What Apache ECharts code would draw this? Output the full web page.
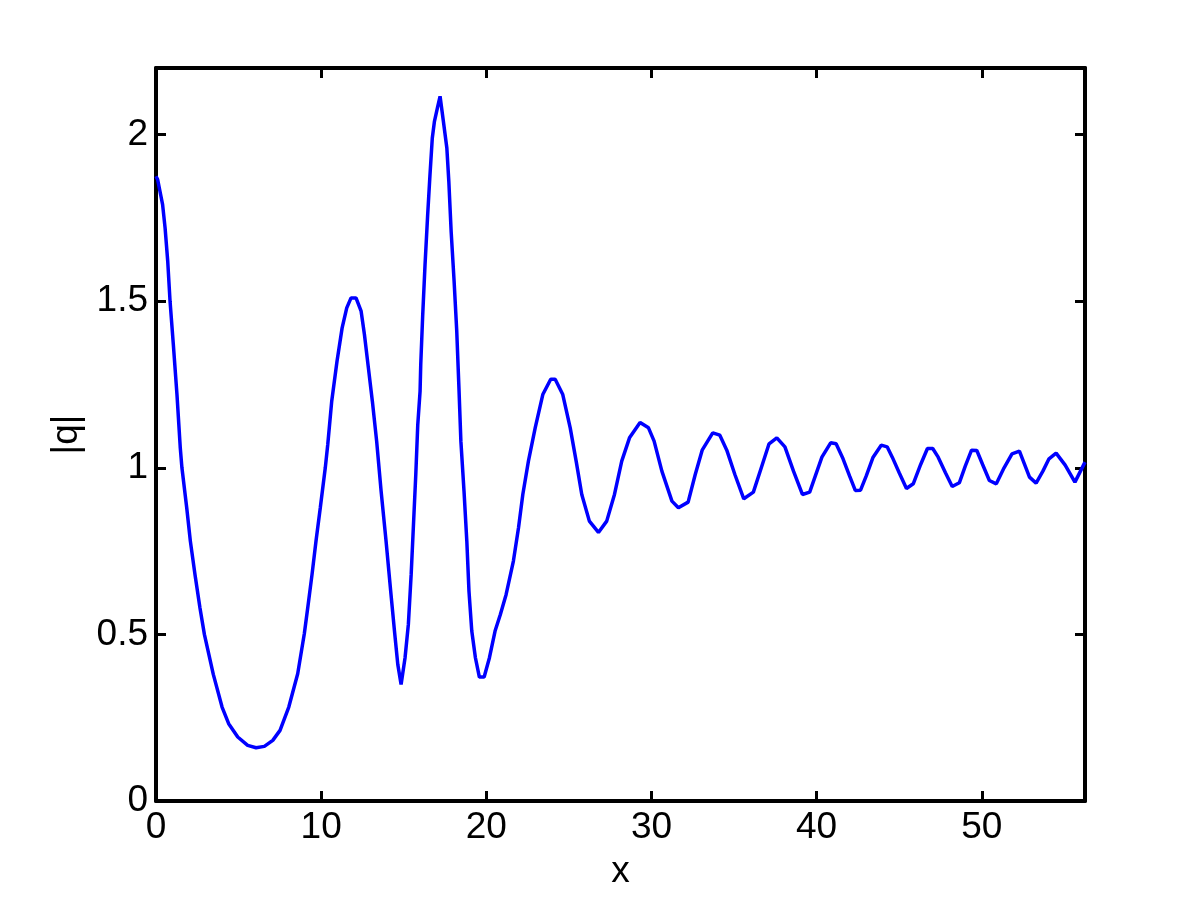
<!DOCTYPE html>
<html>
<head>
<meta charset="utf-8">
<title>|q|</title>
<script src="https://cdn.jsdelivr.net/npm/echarts@6/dist/echarts.min.js"></script>
<style>
  html, body { margin: 0; padding: 0; background: #fff; }
  #chart { width: 1200px; height: 900px; }
</style>
</head>
<body>
<div id="chart"></div>
<script>
// values
var xs = [0.00, 0.10, 0.24, 0.40, 0.55, 0.71, 0.85, 1.05, 1.27, 1.47,
  1.57, 1.86, 2.08, 2.36, 2.66, 2.93, 3.47, 4.00, 4.40, 4.95,
  5.55, 6.06, 6.56, 7.07, 7.51, 8.04, 8.58, 8.98, 9.19, 9.45,
  9.69, 9.95, 10.25, 10.40, 10.64, 10.96, 11.27, 11.55, 11.81, 12.11,
  12.42, 12.62, 12.86, 13.10, 13.36, 13.63, 13.93, 14.21, 14.44, 14.64,
  14.84, 15.08, 15.28, 15.45, 15.59, 15.73, 15.85, 15.99, 16.03, 16.15,
  16.29, 16.45, 16.59, 16.73, 16.86, 17.04, 17.20, 17.40, 17.61, 17.73,
  17.87, 18.05, 18.21, 18.35, 18.46, 18.65, 18.82, 18.95, 19.12, 19.34,
  19.58, 19.87, 20.19, 20.53, 20.85, 21.20, 21.64, 21.95, 22.21, 22.55,
  22.96, 23.42, 23.90, 24.17, 24.63, 25.08, 25.44, 25.78, 26.24, 26.79,
  27.29, 27.76, 28.20, 28.67, 29.31, 29.82, 30.16, 30.63, 31.24, 31.63,
  32.22, 32.65, 33.07, 33.71, 34.14, 34.56, 35.05, 35.59, 36.17, 36.65,
  37.12, 37.59, 38.08, 38.60, 39.14, 39.58, 40.32, 40.85, 41.18, 41.60,
  42.00, 42.34, 42.66, 43.00, 43.42, 43.91, 44.27, 44.58, 45.00, 45.44,
  45.85, 46.30, 46.71, 47.03, 47.36, 47.80, 48.21, 48.64, 49.00, 49.38,
  49.70, 50.05, 50.46, 50.88, 51.35, 51.83, 52.28, 52.89, 53.29, 53.70,
  54.07, 54.50, 55.05, 55.64, 56.25];
var qAbs = [1.875, 1.865, 1.83, 1.79, 1.72, 1.62, 1.50, 1.37, 1.22, 1.06,
  1.00, 0.88, 0.78, 0.68, 0.58, 0.50, 0.38, 0.282, 0.232, 0.192,
  0.167, 0.160, 0.164, 0.182, 0.212, 0.282, 0.382, 0.502, 0.581, 0.681,
  0.781, 0.881, 1.00, 1.07, 1.20, 1.32, 1.42, 1.48, 1.51, 1.51,
  1.47, 1.40, 1.30, 1.20, 1.08, 0.93, 0.78, 0.63, 0.51, 0.41,
  0.35, 0.43, 0.53, 0.68, 0.83, 0.98, 1.13, 1.23, 1.31, 1.46,
  1.61, 1.76, 1.88, 1.99, 2.04, 2.08, 2.115, 2.04, 1.96, 1.86,
  1.71, 1.56, 1.41, 1.23, 1.08, 0.93, 0.78, 0.63, 0.51, 0.43,
  0.372, 0.372, 0.43, 0.51, 0.56, 0.62, 0.72, 0.82, 0.92, 1.02,
  1.12, 1.22, 1.266, 1.266, 1.22, 1.12, 1.02, 0.92, 0.84, 0.806,
  0.84, 0.92, 1.02, 1.09, 1.136, 1.12, 1.08, 0.99, 0.90, 0.88,
  0.897, 0.98, 1.053, 1.105, 1.098, 1.053, 0.98, 0.907, 0.927, 1.00,
  1.072, 1.09, 1.063, 0.99, 0.92, 0.927, 1.032, 1.075, 1.072, 1.027,
  0.975, 0.932, 0.933, 0.975, 1.032, 1.068, 1.063, 1.032, 0.985, 0.938,
  0.952, 1.01, 1.058, 1.058, 1.032, 0.985, 0.944, 0.955, 1.005, 1.053,
  1.052, 1.01, 0.962, 0.952, 1.00, 1.042, 1.05, 0.972, 0.954, 0.99,
  1.027, 1.044, 1.008, 0.957, 1.017];
var xTicks = [0, 10, 20, 30, 40, 50];
var yTicks = [0, 0.5, 1, 1.5, 2];

var font = "'Liberation Sans', Arial, sans-serif";
var fontSize = 37;

var points = xs.map(function (x, i) { return [x, qAbs[i]]; });

// only print the listed ticks (the axis also puts one at max)
function tickFormatter(list) {
  return function (v) {
    for (var i = 0; i < list.length; i++) {
      if (Math.abs(list[i] - v) < 1e-6) return String(v);
    }
    return '';
  };
}

var lineStyle = { color: '#000', width: 4 };
var tickStyle = { show: true, inside: true, length: 10, lineStyle: { color: '#000', width: 3 } };

var chart = echarts.init(document.getElementById('chart'), null, { renderer: 'canvas' });
chart.setOption({
  animation: false,
  backgroundColor: '#fff',
  grid: { left: 156, right: 115, top: 68, bottom: 99, containLabel: false },
  xAxis: [{
    type: 'value',
    min: 0,
    max: 56.25,
    interval: 10,
    name: 'x',
    nameLocation: 'middle',
    nameGap: 52,
    nameTextStyle: { color: '#000', fontFamily: font, fontSize: fontSize },
    axisLine: { show: true, onZero: false, lineStyle: lineStyle },
    axisTick: tickStyle,
    splitLine: { show: false },
    axisLabel: {
      color: '#000', fontFamily: font, fontSize: fontSize, margin: 8,
      showMaxLabel: false, formatter: tickFormatter(xTicks)
    }
  }, {
    // top edge of the box
    type: 'value', position: 'top', min: 0, max: 56.25, interval: 10,
    axisLine: { show: true, onZero: false, lineStyle: lineStyle },
    axisTick: tickStyle,
    axisLabel: { show: false },
    splitLine: { show: false }
  }],
  yAxis: [{
    type: 'value',
    min: 0,
    max: 2.2,
    interval: 0.5,
    name: '|q|',
    nameLocation: 'middle',
    nameGap: 66,
    nameTextStyle: { color: '#000', fontFamily: font, fontSize: fontSize },
    axisLine: { show: true, onZero: false, lineStyle: lineStyle },
    axisTick: tickStyle,
    splitLine: { show: false },
    axisLabel: {
      color: '#000', fontFamily: font, fontSize: fontSize, margin: 8,
      showMaxLabel: false, formatter: tickFormatter(yTicks)
    }
  }, {
    // right edge of the box
    type: 'value', position: 'right', min: 0, max: 2.2, interval: 0.5,
    axisLine: { show: true, onZero: false, lineStyle: lineStyle },
    axisTick: tickStyle,
    axisLabel: { show: false },
    splitLine: { show: false }
  }],
  series: [{
    type: 'line',
    data: points,
    showSymbol: false,
    smooth: false,
    clip: true,
    lineStyle: { color: '#0000ff', width: 3.5 }
  }]
});
</script>
</body>
</html>
